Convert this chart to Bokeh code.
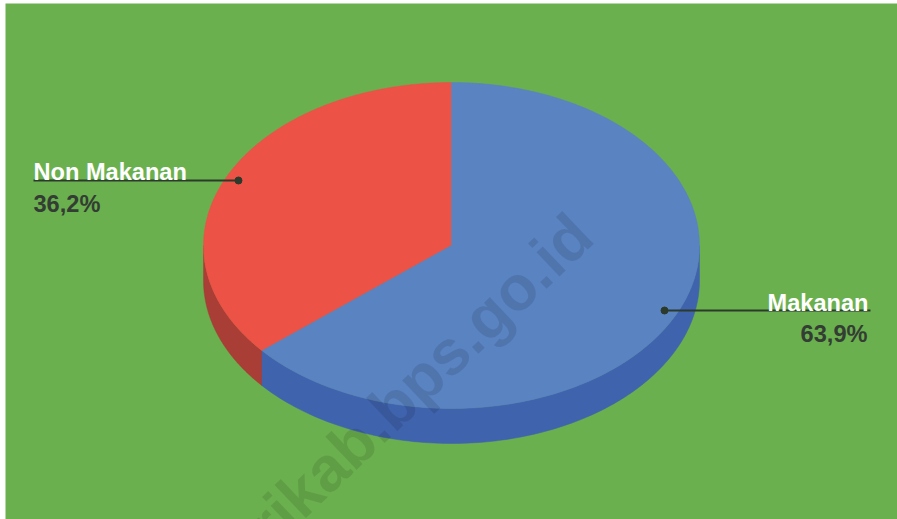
import numpy as np
from bokeh.plotting import figure
from bokeh.models import Range1d
from bokeh.core.properties import value
from bokeh.embed import file_html
from bokeh.resources import INLINE

# ---- data ----
categories = ["Non Makanan", "Makanan"]
values = [36.2, 63.9]
labels = ["36,2%", "63,9%"]
top_colors = ["#EC5246", "#5A83C1"]
side_colors = ["#A83E36", "#3F63AD"]
watermark = "rikab.bps.go.id"

# ---- layout (reference pixel space; data y = 519 - ref_y) ----
BG = "#6BB04F"
CX, CY = 451.0, 519 - 245.0
RX, RY = 248.0, 163.0
DEPTH = 35.0
START = 90.0  # degrees, slices go counter-clockwise

p = figure(width=897, height=519, output_backend="svg", toolbar_location=None,
           x_range=Range1d(5, 897), y_range=Range1d(0, 516),
           background_fill_color=BG, border_fill_color="white",
           min_border=0, min_border_left=5, min_border_top=3)
p.axis.visible = False
p.grid.visible = False
p.outline_line_color = None

total = float(sum(values))
angles = []
a = START
for v in values:
    span = v / total * 360.0
    angles.append((a, a + span))
    a += span

def ell(t_deg, dy=0.0):
    t = np.radians(t_deg)
    return CX + RX * np.cos(t), CY + RY * np.sin(t) - dy

# sides (front half only)
side_xs, side_ys, side_cols = [], [], []
for (a0, a1), col in zip(angles, side_colors):
    for off in (0.0, 360.0, -360.0):
        lo = max(a0, 180.0 + off)
        hi = min(a1, 360.0 + off)
        if hi > lo:
            ts = np.linspace(lo, hi, 120)
            xt, yt = ell(ts)
            xb, yb = ell(ts[::-1], DEPTH)
            side_xs.append(list(np.concatenate([xt, xb])))
            side_ys.append(list(np.concatenate([yt, yb])))
            side_cols.append(col)
p.patches(side_xs, side_ys, fill_color=side_cols, line_color=side_cols, line_width=0.5)

# tops
top_xs, top_ys = [], []
for (a0, a1) in angles:
    ts = np.linspace(a0, a1, 240)
    x, y = ell(ts)
    top_xs.append([CX] + list(x))
    top_ys.append([CY] + list(y))
p.patches(top_xs, top_ys, fill_color=top_colors, line_color=top_colors, line_width=0.5)

# watermark
p.text(x=[419], y=[519 - 379], text=[watermark], angle=np.radians(43.6),
       text_font=value("Liberation Sans"), text_font_style="bold",
       text_font_size="63px", text_color="black", text_alpha=0.1,
       text_align="center", text_baseline="alphabetic")

# labels with leader lines
FS = "23.6px"
for i, (cat, lab) in enumerate(zip(categories, labels)):
    a0, a1 = angles[i]
    mid = (a0 + a1) / 2.0
    t = np.radians(mid)
    dx = CX + 0.947 * RX * np.cos(t)
    dy = CY + 0.947 * RY * np.sin(t)
    if np.cos(t) < 0:
        xend, align = 33.0, "left"
    else:
        xend, align = 870.0, "right"
    p.line([dx, xend], [dy, dy], line_color="#2B3A2B", line_width=2)
    p.scatter([dx], [dy], size=7, fill_color="#2B3A2B", line_color="#2B3A2B")
    p.text(x=[xend if align == "left" else xend - 2], y=[dy + 8], text=[cat],
           text_font=value("Liberation Sans"), text_font_style="bold",
           text_font_size=FS, text_color="white",
           text_align=align, text_baseline="alphabetic")
    p.text(x=[xend if align == "left" else xend - 3], y=[dy - 23.5], text=[lab],
           text_font=value("Liberation Sans"), text_font_style="bold",
           text_font_size=FS, text_color="#333D33",
           text_align=align, text_baseline="alphabetic")

open("out.html", "w").write(file_html(p, INLINE))
